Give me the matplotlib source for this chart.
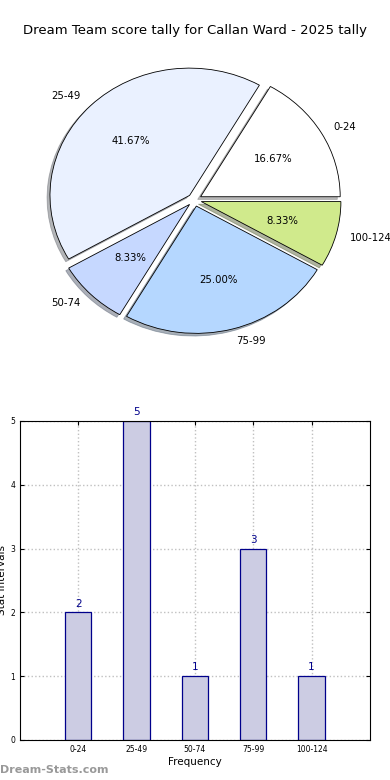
import numpy as np
import matplotlib
matplotlib.use('Agg')
import matplotlib.pyplot as plt

# score tally data
categories = ['0-24', '25-49', '50-74', '75-99', '100-124']
counts = [2, 5, 1, 3, 1]
pie_colors = ['#ffffff', '#eaf1ff', '#c6d8ff', '#b5d7ff', '#d0ea8c']

fig = plt.figure(figsize=(3.9, 7.8), dpi=100)

# pie (elliptical, like the old matplotlib output)
ax1 = fig.add_axes([0.0513, 0.5397, 0.895, 0.408])
ax1.pie(counts, labels=categories, colors=pie_colors, explode=[0.05] * 5,
        autopct='%1.2f%%', startangle=0,
        shadow={'ox': -0.015, 'oy': -0.015, 'shade': 0.55},
        wedgeprops={'edgecolor': 'black', 'linewidth': 0.6},
        textprops={'fontsize': 7.3})
ax1.set_aspect('auto')
fig.text(0.5, 0.961, 'Dream Team score tally for Callan Ward - 2025 tally',
         ha='center', va='center', fontsize=9.5)

# frequency bars
ax2 = fig.add_axes([0.0513, 0.0513, 0.897, 0.409])
x = np.arange(len(categories))
ax2.bar(x, counts, width=0.45, color='#cccce3', edgecolor='#00008b', linewidth=0.9)
for xi, c in zip(x, counts):
    ax2.text(xi, c + 0.06, str(c), ha='center', va='bottom', color='#00008b', fontsize=7.5)
ax2.set_xlim(-1, 5)
ax2.set_ylim(0, 5)
ax2.set_xticks(x)
ax2.set_xticklabels(categories)
ax2.set_yticks(range(6))
ax2.tick_params(direction='in', top=True, right=True, labelsize=5.5, length=3)
ax2.grid(True, linestyle=':', color='#c0c0c0', linewidth=1)
ax2.set_axisbelow(True)
ax2.set_xlabel('Frequency', fontsize=7.5, labelpad=2)
ax2.set_ylabel('Stat Intervals', fontsize=7.5, labelpad=2)

fig.text(0.0, 0.013, 'Dream-Stats.com', color='#999999', fontsize=8,
         fontweight='bold', ha='left', va='center')

fig.savefig('out.png', dpi=100)
